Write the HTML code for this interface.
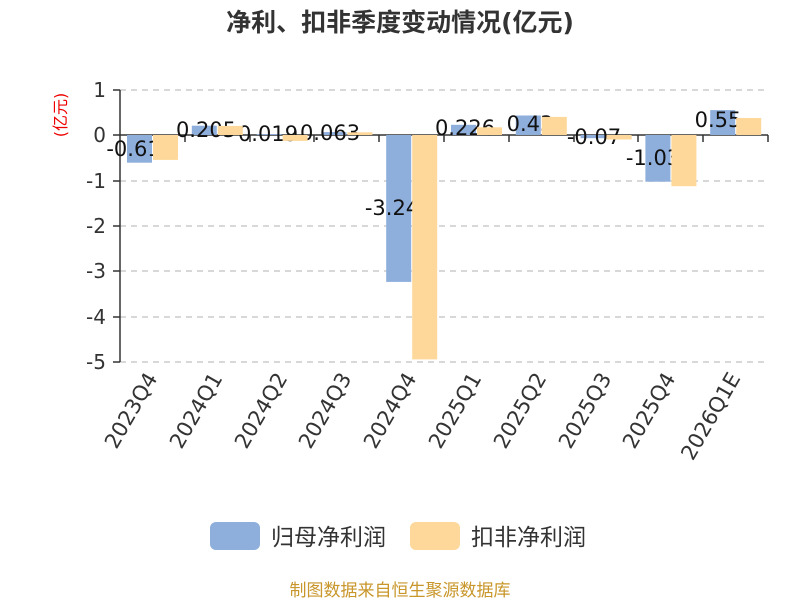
<!DOCTYPE html>
<html><head><meta charset="utf-8"><style>
body{margin:0;background:#fff;width:800px;height:600px;overflow:hidden}
text{font-family:"DejaVu Sans","Noto Sans CJK SC",sans-serif}
</style></head><body>
<svg width="800" height="600" xmlns="http://www.w3.org/2000/svg">
<text x="400" y="31" text-anchor="middle" font-size="25" font-weight="bold" fill="#333" font-family="Liberation Sans,Noto Sans CJK SC,sans-serif">净利、扣非季度变动情况(亿元)</text>
<text transform="translate(66,115) rotate(-90)" text-anchor="middle" font-size="16" fill="#e00">(亿元)</text>
<g stroke="#ccc" stroke-dasharray="6,5" stroke-width="1.5">
<line x1="120" y1="90" x2="768" y2="90"/><line x1="120" y1="181" x2="768" y2="181"/>
<line x1="120" y1="226" x2="768" y2="226"/><line x1="120" y1="271" x2="768" y2="271"/>
<line x1="120" y1="317" x2="768" y2="317"/><line x1="120" y1="362" x2="768" y2="362"/>
</g>
<g font-size="20" fill="#333" text-anchor="end" dominant-baseline="central">
<text x="106" y="90">1</text><text x="106" y="135">0</text><text x="106" y="181">-1</text>
<text x="106" y="226">-2</text><text x="106" y="271">-3</text><text x="106" y="317">-4</text><text x="106" y="362">-5</text>
</g>
<g stroke="#333" stroke-width="1.5">
<line x1="120" y1="90" x2="120" y2="362"/>
<line x1="113" y1="90" x2="120" y2="90"/><line x1="113" y1="135" x2="120" y2="135"/><line x1="113" y1="181" x2="120" y2="181"/>
<line x1="113" y1="226" x2="120" y2="226"/><line x1="113" y1="271" x2="120" y2="271"/><line x1="113" y1="317" x2="120" y2="317"/><line x1="113" y1="362" x2="120" y2="362"/>
<line x1="120" y1="135" x2="768" y2="135"/>
<line x1="185" y1="135" x2="185" y2="142"/><line x1="250" y1="135" x2="250" y2="142"/><line x1="314" y1="135" x2="314" y2="142"/>
<line x1="379" y1="135" x2="379" y2="142"/><line x1="444" y1="135" x2="444" y2="142"/><line x1="509" y1="135" x2="509" y2="142"/>
<line x1="574" y1="135" x2="574" y2="142"/><line x1="638" y1="135" x2="638" y2="142"/><line x1="703" y1="135" x2="703" y2="142"/><line x1="768" y1="135" x2="768" y2="142"/>
</g>
<g fill="#8eaedc">
<rect x="127" y="135" width="25" height="27.7"/>
<rect x="191.8" y="125.7" width="25" height="9.3"/>
<rect x="256.6" y="134.1" width="25" height="0.9"/>
<rect x="321.4" y="132.1" width="25" height="2.9"/>
<rect x="386.2" y="135" width="25" height="146.9"/>
<rect x="451" y="124.8" width="25" height="10.2"/>
<rect x="515.8" y="115.5" width="25" height="19.5"/>
<rect x="580.6" y="135" width="25" height="3.2"/>
<rect x="645.4" y="135" width="25" height="46.7"/>
<rect x="710.2" y="110.1" width="25" height="24.9"/>
</g>
<g font-size="21" fill="#111" text-anchor="middle" dominant-baseline="central">
<text x="133.5" y="149">-0.61</text>
<text x="206" y="130">0.205</text>
<text x="268" y="134">0.019</text>
<text x="330" y="133">0.063</text>
<text x="392" y="208">-3.24</text>
<text x="465" y="128">0.226</text>
<text x="530" y="124">0.43</text>
<text x="594" y="137">-0.07</text>
<text x="653" y="158">-1.03</text>
<text x="718" y="120">0.55</text>
</g>
<g fill="#fdd89a">
<rect x="153" y="135" width="25" height="24.9"/>
<rect x="217.8" y="125.9" width="25" height="9.1"/>
<rect x="282.6" y="135" width="25" height="5.9"/>
<rect x="347.4" y="132.3" width="25" height="2.7"/>
<rect x="412.2" y="135" width="25" height="224.4"/>
<rect x="477" y="127.3" width="25" height="7.7"/>
<rect x="541.8" y="116.9" width="25" height="18.1"/>
<rect x="606.6" y="135" width="25" height="4.5"/>
<rect x="671.4" y="135" width="25" height="51.2"/>
<rect x="736.2" y="118" width="25" height="17"/>
</g>
<g font-size="21" fill="#333" text-anchor="end">
<text transform="translate(158,378) rotate(-60)">2023Q4</text>
<text transform="translate(223,378) rotate(-60)">2024Q1</text>
<text transform="translate(288,378) rotate(-60)">2024Q2</text>
<text transform="translate(352,378) rotate(-60)">2024Q3</text>
<text transform="translate(417,378) rotate(-60)">2024Q4</text>
<text transform="translate(482,378) rotate(-60)">2025Q1</text>
<text transform="translate(547,378) rotate(-60)">2025Q2</text>
<text transform="translate(612,378) rotate(-60)">2025Q3</text>
<text transform="translate(676,378) rotate(-60)">2025Q4</text>
<text transform="translate(741,378) rotate(-60)">2026Q1E</text>
</g>
<rect x="210" y="522" width="50" height="28" rx="6" fill="#8eaedc"/>
<text x="271" y="545" font-size="23" fill="#333">归母净利润</text>
<rect x="410" y="522" width="50" height="28" rx="6" fill="#fdd89a"/>
<text x="471" y="545" font-size="23" fill="#333">扣非净利润</text>
<text x="400" y="596" text-anchor="middle" font-size="17" fill="#c8962a">制图数据来自恒生聚源数据库</text>
</svg>
</body></html>
